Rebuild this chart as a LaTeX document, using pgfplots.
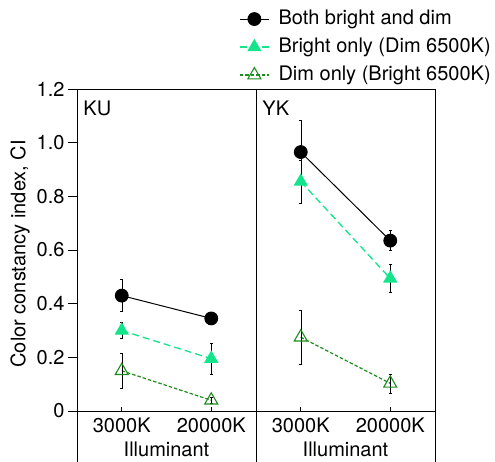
\documentclass[border=0pt]{standalone}
\usepackage{pgfplots}
\pgfplotsset{compat=1.18}
\usepackage{fontspec}
\setmainfont{TeX Gyre Heros}
\definecolor{lgreen}{RGB}{20,228,140}
\definecolor{dgreen}{RGB}{30,140,30}
\newcommand{\fs}{\fontsize{20}{23}\selectfont}
\pgfplotsset{
  panel/.style={
    scale only axis, width=179pt, height=322pt,
    xmin=0.5, xmax=2.5, ymin=0, ymax=1.2,
    xtick={1,2}, xticklabels={3000K,20000K},
    tick align=outside, major tick length=9pt,
    tick style={black, line width=0.6pt},
    xtick style={draw=none},
    axis line style={line width=0.8pt},
    xtick pos=bottom, ytick pos=left,
    ticklabel style={font=\fs},
    label style={font=\fs},
    xticklabel style={anchor=base, yshift=-12pt},
    xlabel={Illuminant},
    xlabel style={at={(axis description cs:0.5,-0.1398)}, anchor=base},
    /pgf/number format/assume math mode=true,
    clip=false,
    legend image code/.code={
      \draw[mark repeat=2,mark phase=2,##1] plot coordinates {(0pt,0pt) (14.5pt,0pt) (29pt,0pt)};
    },
  },
  sb/.style={black, line width=1pt, solid, mark=*, mark size=6.4pt, mark options={solid, fill=black},
    error bars/.cd, y dir=both, y explicit, error bar style={black, line width=0.5pt, solid}, error mark options={rotate=90, mark size=1.5pt, black, line width=0.5pt}},
  sl/.style={lgreen, line width=1.3pt, dash pattern=on 7pt off 4pt, mark=triangle*, mark size=7pt, mark options={solid, fill=lgreen, draw=lgreen},
    error bars/.cd, y dir=both, y explicit, error bar style={black, line width=0.5pt, solid}, error mark options={rotate=90, mark size=1.5pt, black, line width=0.5pt}},
  sd/.style={dgreen, line width=1.2pt, dash pattern=on 3.5pt off 2pt, mark=triangle, mark size=7.5pt, mark options={solid, draw=dgreen, fill=none, line width=1.1pt},
    error bars/.cd, y dir=both, y explicit, error bar style={black, line width=0.5pt, solid}, error mark options={rotate=90, mark size=1.5pt, black, line width=0.5pt}},
}
\begin{document}
\begin{tikzpicture}
\useasboundingbox (0,0) rectangle (495pt,461pt);
\begin{axis}[panel, at={(77pt,50pt)}, anchor=south west,
  ytick={0,0.2,0.4,0.6,0.8,1.0,1.2},
  yticklabels={0,0.2,0.4,0.6,0.8,1.0,1.2},
  ylabel={Color constancy index, CI},
  ylabel style={at={(axis description cs:-0.318,0.488)}, anchor=center, rotate=0},
]
\addplot+[sb] coordinates {(1,0.43) +- (0,0.06) (2,0.345) +- (0,0.01)};
\addplot+[sl] coordinates {(1,0.30) +- (0,0.03) (2,0.195) +- (0,0.058)};
\addplot+[sd] coordinates {(1,0.15) +- (0,0.065) (2,0.04) +- (0,0.01)};
\node[anchor=north west, font=\fs, inner sep=0pt] at (axis description cs:0.035,0.965) {KU};
\draw[line width=0.8pt] (rel axis cs:0,0) -- ++(0pt,-52pt);
\draw[line width=0.6pt] (axis cs:1,0) -- ++(0pt,4pt);
\draw[line width=0.6pt] (axis cs:2,0) -- ++(0pt,4pt);
\end{axis}
\begin{axis}[panel, at={(256pt,50pt)}, anchor=south west,
  ytick=\empty,
  legend style={draw=none, fill=none, inner sep=0pt, at={(axis description cs:1.318,1.252)}, anchor=north east,
    font=\fs, row sep=6pt,
    nodes={inner sep=1pt, text height=15pt, text depth=5pt},
    /tikz/every odd column/.append style={column sep=8pt}},
  legend cell align=left,
]
\addplot+[sb] coordinates {(1,0.965) +- (0,0.12) (2,0.635) +- (0,0.037)};
\addlegendentry{Both bright and dim}
\addplot+[sl] coordinates {(1,0.855) +- (0,0.08) (2,0.494) +- (0,0.052)};
\addlegendentry{Bright only (Dim 6500K)}
\addplot+[sd] coordinates {(1,0.275) +- (0,0.1) (2,0.103) +- (0,0.035)};
\addlegendentry{Dim only (Bright 6500K)}
\node[anchor=north west, font=\fs, inner sep=0pt] at (axis description cs:0.035,0.965) {YK};
\draw[line width=0.8pt] (rel axis cs:0,0) -- ++(0pt,-52pt);
\draw[line width=0.8pt] (rel axis cs:1,0) -- ++(0pt,-52pt);
\draw[line width=0.6pt] (axis cs:1,0) -- ++(0pt,4pt);
\draw[line width=0.6pt] (axis cs:2,0) -- ++(0pt,4pt);
\end{axis}
\end{tikzpicture}
\end{document}
